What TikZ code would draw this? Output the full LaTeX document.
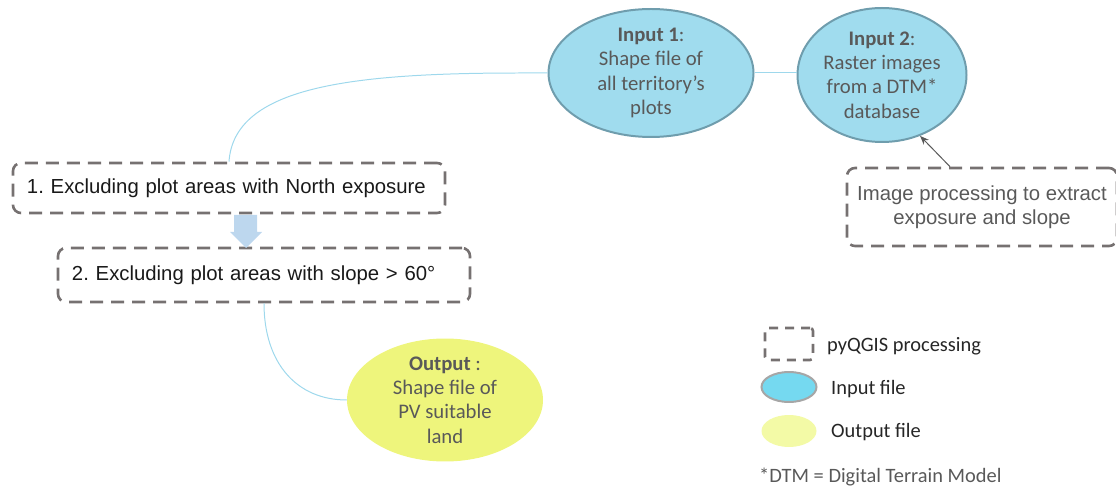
\documentclass[tikz,border=0pt]{standalone}
\usepackage{fontspec}
\setmainfont{Carlito}
\newfontfamily\arialf{Liberation Sans}
\usetikzlibrary{shapes.geometric,arrows.meta,calc}
\frenchspacing
\definecolor{inblue}{HTML}{A0DCEE}
\definecolor{inborder}{HTML}{6F9DAD}
\definecolor{outyel}{HTML}{EEF57C}
\definecolor{txtgray}{HTML}{595959}
\definecolor{dashgray}{HTML}{767171}
\definecolor{conn}{HTML}{9ED8EC}
\definecolor{blockblue}{HTML}{BDD7EE}
\definecolor{leginblue}{HTML}{75D9F0}
\definecolor{legborder}{HTML}{A6A6A6}
\definecolor{legyel}{HTML}{F3FAA6}
\tikzset{
  inell/.style={ellipse, draw=inborder, line width=2pt, fill=inblue, inner sep=0pt, align=center, text=txtgray, font=\fontsize{20.8}{24.5}\selectfont},
  outell/.style={ellipse, fill=outyel, minimum width=196bp, minimum height=116bp, inner sep=0pt, align=center, text=txtgray, font=\fontsize{20.8}{24.5}\selectfont},
  procbox/.style={draw=dashgray, line width=2.6pt, dash pattern=on 13bp off 8bp, rounded corners=8bp, inner ysep=0pt, font=\arialf\fontsize{20.4}{24}\selectfont},
  conline/.style={draw=conn, line width=1pt},
  legtext/.style={anchor=west, inner sep=0pt, font=\fontsize{20.5}{24}\selectfont, text=black!85}
}
\begin{document}
\begin{tikzpicture}[x=1bp,y=-1bp]
\useasboundingbox (0,0) rectangle (1116,489);
% inputs
\node[inell, minimum width=205bp, minimum height=128bp] (in1) at (651,73) {\textbf{Input 1}:\\Shape file of\\all territory’s\\plots};
\node[inell, minimum width=169bp, minimum height=134bp] (in2) at (882,75) {\textbf{Input 2}:\\Raster images\\from a DTM*\\database};
% processing boxes
\node[procbox, inner xsep=14bp, text width=404bp, align=left, minimum height=50bp, text=black!90] (b1) at (229,188) {1. Excluding plot areas with North exposure};
\node[procbox, inner xsep=14bp, text width=384bp, align=left, minimum height=54bp, text=black!90] (b2) at (264,275) {2. Excluding plot areas with slope > 60°};
\node[procbox, inner xsep=0pt, align=center, minimum width=270bp, minimum height=78bp, text=txtgray] (img) at (982,207) {Image processing to extract\\exposure and slope};
% output
\node[outell] (out) at (445,400) {\textbf{Output} :\\Shape file of\\PV suitable\\land};
% connectors
\draw[conline] (in1.east) -- (in1.east -| in2.west);
\draw[conline] (in1.west) -- ++(-27,0) .. controls +(-170,0) and +(5,-75) .. (b1.north);
\draw[conline] (b2.south) .. controls +(0,60) and +(-50,0) .. (out.west);
\coordinate (imgtop) at ($(img.north)+(-32,0)$);
\draw[draw=txtgray, line width=1pt, -{Stealth[length=9bp,width=7bp]}] (imgtop) -- (in2.-58);
% block arrow
\fill[blockblue] (234,215) -- (257,215) -- (257,232) -- (262,232) -- (246,248) -- (230,232) -- (234,232) -- cycle;
% legend
\node[draw=dashgray, line width=2.6pt, dash pattern=on 9bp off 7bp, rounded corners=3bp, minimum width=48bp, minimum height=32bp, inner sep=0pt] (lg1) at (789,344) {};
\node[legtext] (lt1) at (827,346) {pyQGIS processing};
\node[ellipse, draw=legborder, line width=2pt, fill=leginblue, minimum width=55bp, minimum height=30bp, inner sep=0pt] (lg2) at (789,387) {};
\node[legtext] (lt2) at (831,389) {Input file};
\node[ellipse, fill=legyel, minimum width=55bp, minimum height=32bp, inner sep=0pt] (lg3) at (789,431) {};
\node[legtext] (lt3) at (831,432) {Output file};
\node[legtext, text=txtgray] (dtm) at (759,477) {*DTM = Digital Terrain Model};
\end{tikzpicture}
\end{document}
